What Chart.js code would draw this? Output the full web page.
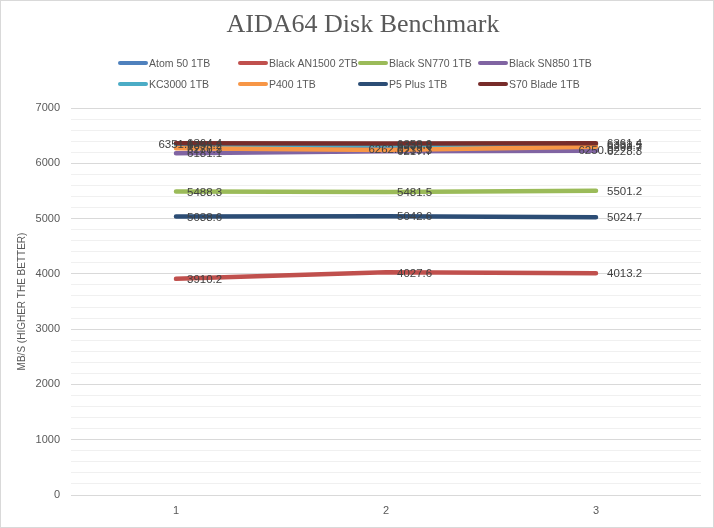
<!DOCTYPE html>
<html>
<head>
<meta charset="utf-8">
<script src="https://cdn.jsdelivr.net/npm/chart.js@4.4.1/dist/chart.umd.min.js"></script>
<style>
html,body{margin:0;padding:0;background:#fff;}
#wrap{width:714px;height:528px;position:relative;}
</style>
</head>
<body>
<div id="wrap"><canvas id="c" width="714" height="528"></canvas></div>
<script>
const categories = ['1', '2', '3'];
const seriesNames = ['Atom 50 1TB', 'Black AN1500 2TB', 'Black SN770 1TB', 'Black SN850 1TB',
                     'KC3000 1TB', 'P400 1TB', 'P5 Plus 1TB', 'S70 Blade 1TB'];
const atom50 = [6351.1, 6262.0, 6250.0];
const blackAN1500 = [3910.2, 4027.6, 4013.2];
const blackSN770 = [5488.3, 5481.5, 5501.2];
const blackSN850 = [6181.1, 6217.7, 6228.8];
const kc3000 = [6335.2, 6330.8, 6333.5];
const p400 = [6270.3, 6239.3, 6298.7];
const p5Plus = [5038.6, 5042.6, 5024.7];
const s70Blade = [6364.4, 6358.9, 6361.4];
const yTicks = [0, 1000, 2000, 3000, 4000, 5000, 6000, 7000];

const seriesValues = [atom50, blackAN1500, blackSN770, blackSN850, kc3000, p400, p5Plus, s70Blade];
const colors = ['#4F81BD', '#C0504D', '#9BBB59', '#8064A2', '#4BACC6', '#F79646', '#2C4D75', '#772C2A'];
const labelAlign = ['center', 'left', 'left', 'left', 'left', 'left', 'left', 'left'];

const datasets = seriesValues.map((vals, i) => ({
  label: seriesNames[i],
  data: vals,
  borderColor: colors[i],
  backgroundColor: colors[i],
  borderWidth: 4.5,
  borderCapStyle: 'round',
  borderJoinStyle: 'round',
  pointRadius: 0,
  pointHoverRadius: 0,
  tension: 0,
  fill: false,
  order: seriesValues.length - 1 - i,
  labelAlign: labelAlign[i]
}));

const frame = {
  id: 'frame',
  beforeDraw(chart) {
    const ctx = chart.ctx;
    ctx.save();
    ctx.fillStyle = '#fff';
    ctx.fillRect(0, 0, chart.width, chart.height);
    ctx.restore();
  },
  afterDraw(chart) {
    const ctx = chart.ctx;
    ctx.save();
    ctx.strokeStyle = '#d9d9d9';
    ctx.lineWidth = 1;
    ctx.strokeRect(0.5, 0.5, chart.width - 1, chart.height - 1);
    // title
    ctx.fillStyle = '#595959';
    ctx.font = '26px "Liberation Serif"';
    ctx.textAlign = 'center';
    ctx.textBaseline = 'middle';
    ctx.fillText('AIDA64 Disk Benchmark', 363, 25);
    // legend
    ctx.font = '10.5px "Liberation Sans"';
    ctx.textAlign = 'left';
    chart.data.datasets.forEach((ds, i) => {
      const col = i % 4, row = Math.floor(i / 4);
      const x = 120 + col * 120, y = 63 + row * 21;
      ctx.strokeStyle = ds.borderColor;
      ctx.lineWidth = 4;
      ctx.lineCap = 'round';
      ctx.beginPath();
      ctx.moveTo(x, y);
      ctx.lineTo(x + 26, y);
      ctx.stroke();
      ctx.fillStyle = '#595959';
      ctx.fillText(ds.label, x + 29, y + 1);
    });
    ctx.restore();
  }
};

const dataLabels = {
  id: 'dataLabels',
  afterDatasetsDraw(chart) {
    const ctx = chart.ctx;
    ctx.save();
    ctx.font = '11.5px "Liberation Sans"';
    ctx.fillStyle = '#404040';
    ctx.textBaseline = 'middle';
    chart.data.datasets.forEach((ds, i) => {
      const meta = chart.getDatasetMeta(i);
      meta.data.forEach((pt, j) => {
        const txt = ds.data[j].toFixed(1);
        if (ds.labelAlign === 'center') {
          ctx.textAlign = 'center';
          ctx.fillText(txt, pt.x, pt.y + 1);
        } else {
          ctx.textAlign = 'left';
          ctx.fillText(txt, pt.x + 11, pt.y + 1);
        }
      });
    });
    ctx.restore();
  }
};

new Chart(document.getElementById('c'), {
  type: 'line',
  data: { labels: categories, datasets },
  plugins: [frame, dataLabels],
  options: {
    responsive: false,
    animation: false,
    events: [],
    layout: { padding: { top: 108, right: 13, bottom: 8, left: 0 } },
    plugins: { legend: { display: false }, title: { display: false }, tooltip: { enabled: false } },
    scales: {
      x: {
        offset: true,
        grid: { display: false, drawTicks: false },
        border: { display: false },
        ticks: { color: '#595959', font: { family: 'Liberation Sans', size: 11 }, padding: 9 },
        afterFit(s) { s.height = 25; }
      },
      y: {
        min: yTicks[0],
        max: yTicks[yTicks.length - 1],
        afterBuildTicks(s) {
          const t = [];
          for (let v = yTicks[0]; v <= yTicks[yTicks.length - 1]; v += 200) t.push({ value: v });
          s.ticks = t;
        },
        ticks: {
          autoSkip: false,
          padding: 11,
          color: '#595959',
          font: { family: 'Liberation Sans', size: 11 },
          callback: (v) => (yTicks.includes(v) ? String(v) : '')
        },
        grid: {
          drawTicks: false,
          color: (c) => (c.tick && yTicks.includes(c.tick.value) ? '#d9d9d9' : '#f0f0f0'),
          lineWidth: 1
        },
        border: { display: false },
        title: {
          display: true,
          text: 'MB/S (HIGHER THE BETTER)',
          color: '#595959',
          font: { family: 'Liberation Sans', size: 10 },
          padding: { top: 16, bottom: 0 }
        },
        afterFit(s) { s.width = 71; }
      }
    }
  }
});
</script>
</body>
</html>
